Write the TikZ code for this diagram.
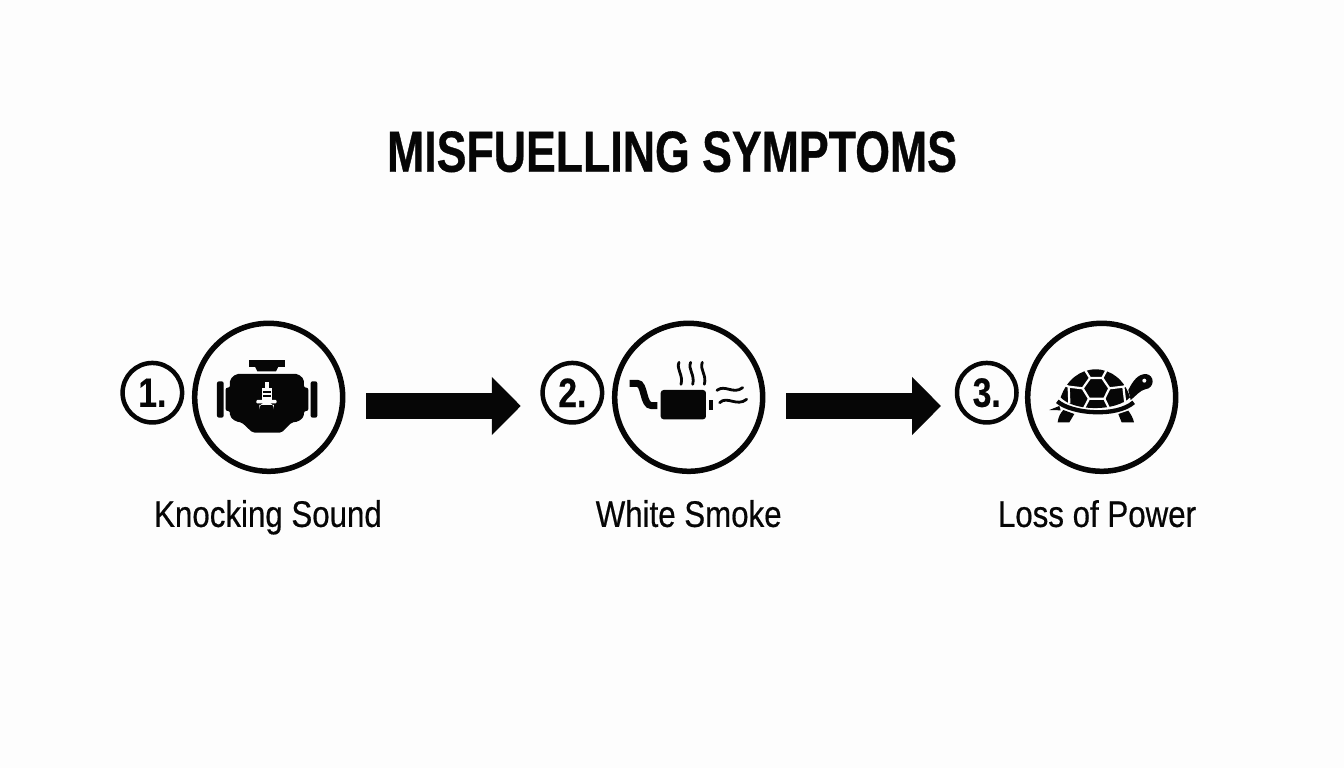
\documentclass[tikz,border=0pt]{standalone}
\usepackage{fontspec}
\usetikzlibrary{positioning,arrows.meta}
\newfontfamily\titlefont[FakeStretch=0.77,FakeBold=0.6]{Liberation Sans}
\newfontfamily\labelfont[FakeStretch=0.845,FakeBold=0.5]{Liberation Sans}
\newfontfamily\numfont[FakeStretch=0.82,FakeBold=0.5]{Liberation Sans}
\definecolor{inkblack}{HTML}{060606}
\definecolor{paperwhite}{HTML}{FDFDFD}
\begin{document}
\begin{tikzpicture}[x=1pt,y=-1pt,
                    bignode/.style={circle, draw=inkblack, line width=5.5pt, minimum size=148pt, inner sep=0pt, outer sep=0pt},
                    numnode/.style={circle, draw=inkblack, line width=4.5pt, minimum size=59.5pt, inner sep=0pt, outer sep=0pt, text=inkblack, font=\numfont\bfseries\fontsize{41}{41}\selectfont},
                    textnode/.style={inner sep=0pt, text=inkblack, text height=27pt, text depth=8pt, font=\labelfont\fontsize{37}{37}\selectfont},
                    flowarrow/.style={draw=inkblack, line width=26.3pt, -{Triangle[length=29pt,width=56.6pt]}},
                    whitegap/.style={draw=paperwhite, line width=2.2pt}]
    \fill[paperwhite] (0,0) rectangle (1344,768);
    \useasboundingbox (0,0) rectangle (1344,768);
    % nodes
    \node[inner sep=0pt, anchor=base, text=inkblack, font=\titlefont\bfseries\fontsize{58}{58}\selectfont] (title) at (672,171.7) {MISFUELLING SYMPTOMS};
    \node[bignode]      (big1)   at (268.7,397.3)                {};
    \node[bignode]      (big2)   [right=272pt of big1]           {};
    \node[bignode]      (big3)   [right=265pt of big2]           {};
    \node[numnode]      (num1)   [left=12.6pt of big1, yshift=4.6pt] {1.};
    \node[numnode]      (num2)   [left=12.6pt of big2, yshift=4.6pt] {2.};
    \node[numnode]      (num3)   [left=11.2pt of big3, yshift=4.6pt] {3.};
    \node[textnode]     (text1)  [below=28.4pt of big1, xshift=-0.7pt] {Knocking Sound};
    \node[textnode]     (text2)  [below=28.4pt of big2]                {White Smoke};
    \node[textnode]     (text3)  [below=28.4pt of big3, xshift=-4.7pt] {Loss of Power};
    % lines
    \draw[flowarrow] ([shift={(23.3,8.7)}]big1.east) -- ([shift={(-21.8,13.3)}]num2.west);
    \draw[flowarrow] ([shift={(23.3,8.7)}]big2.east) -- ([shift={(-16,13.3)}]num3.west);
    % engine
    \begin{scope}[shift={(110,310)},x=0.3333pt,y=-0.3333pt]
        \fill[inkblack] (418,150) rectangle (524,170);
        \fill[inkblack] (435,170) -- (505,170) -- (498,184) -- (442,184) -- cycle;
        \fill[inkblack, rounded corners=2pt] (378,192) -- (565,192) -- (582,208) -- (582,233) -- (595,233) -- (595,303) -- (582,303) -- (582,320) -- (565,335) -- (545,337) -- (515,368) -- (428,368) -- (395,337) -- (378,335) -- (360,320) -- (360,303) -- (347,303) -- (347,233) -- (360,233) -- (360,208) -- cycle;
        \fill[inkblack, rounded corners=2pt] (321,214) rectangle (341,323);
        \fill[inkblack, rounded corners=2pt] (602,214) rectangle (622,323);
        \fill[paperwhite] (465,217) rectangle (477,235);
        \fill[paperwhite] (455,235) rectangle (487,270);
        \fill[inkblack] (460,243) rectangle (482,248);
        \fill[inkblack] (460,255) rectangle (482,260);
        \fill[paperwhite, rounded corners=1pt] (439,270) rectangle (500,280);
        \fill[paperwhite] (448,285) -- (492,285) -- (492,298) arc[start angle=0, end angle=-180, radius=22] -- cycle;
    \end{scope}
    % exhaust
    \begin{scope}[shift={(530,310)},x=0.3333pt,y=-0.3333pt]
        \draw[inkblack, line width=7pt] (299,220) -- (322,220) .. controls (345,220) and (338,287) .. (365,287) -- (382,287);
        \fill[inkblack, rounded corners=3pt] (392,240) rectangle (528,328);
        \fill[inkblack] (537,270) rectangle (550,300);
        \foreach \steamx in {447,482,517} {
            \draw[inkblack, line width=2.8pt, line cap=round] (\steamx,157) .. controls (\steamx-9,178) and (\steamx+14,195) .. (\steamx+6,223);
        }
        \draw[inkblack, line width=2.8pt, line cap=round] (561,241) .. controls (585,222) and (610,255) .. (638,233);
        \draw[inkblack, line width=2.8pt, line cap=round] (569,278) .. controls (592,256) and (620,292) .. (650,268);
    \end{scope}
    % turtle
    \begin{scope}[shift={(1040,360)},x=0.3333pt,y=-0.3333pt]
        \fill[inkblack] (62,112) .. controls (80,60) and (120,28) .. (167,28) .. controls (215,28) and (255,62) .. (270,112) .. controls (230,155) and (100,155) .. (62,112) -- cycle;
        \draw[whitegap, line join=round] (150,54) -- (187,54) -- (208,85) -- (193,116) -- (147,116) -- (128,85) -- cycle;
        \draw[whitegap] (150,54) -- (134,28);
        \draw[whitegap] (187,54) -- (201,28);
        \draw[whitegap] (128,85) -- (86,80) -- (60,70);
        \draw[whitegap] (208,85) -- (250,80) -- (275,70);
        \draw[whitegap] (147,116) -- (132,145);
        \draw[whitegap] (193,116) -- (207,145);
        \draw[whitegap] (86,80) -- (88,130);
        \draw[whitegap] (250,80) -- (256,130);
        \draw[inkblack, line width=4.3pt] (52,124) .. controls (95,162) and (230,172) .. (281,127);
        \fill[inkblack] (28,150) -- (58,138) -- (62,151) -- cycle;
        \fill[inkblack] (53,187) .. controls (55,170) and (62,158) .. (70,150) -- (103,162) -- (88,187) -- cycle;
        \fill[inkblack] (235,162) -- (265,152) .. controls (272,162) and (280,175) .. (282,187) -- (245,187) -- cycle;
        \fill[inkblack] (265,90) .. controls (280,60) and (295,42) .. (318,42) .. controls (345,45) and (345,85) .. (315,88) .. controls (300,92) and (290,105) .. (272,120) -- cycle;
        \fill[paperwhite] (313,62) circle[radius=6];
    \end{scope}
\end{tikzpicture}
\end{document}
